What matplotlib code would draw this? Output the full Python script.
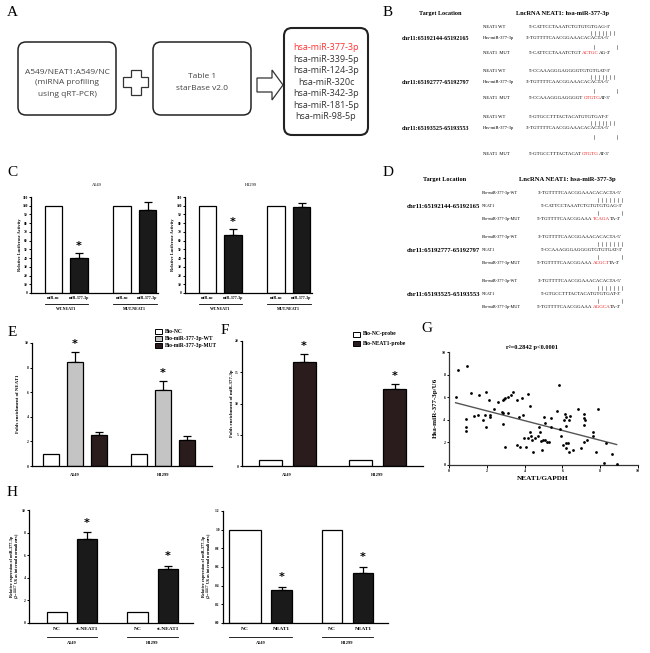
import matplotlib
matplotlib.use("Agg")
import matplotlib.pyplot as plt
from matplotlib.patches import FancyBboxPatch, Polygon, Rectangle
import numpy as np

# ── data ──────────────────────────────────────────────────
A_MIRNAS = ["hsa-miR-377-3p", "hsa-miR-339-5p", "hsa-miR-124-3p", "hsa-miR-320c",
            "hsa-miR-342-3p", "hsa-miR-181-5p", "hsa-miR-98-5p"]

CHR_SITES = ["chr11:65192144-65192165", "chr11:65192777-65192797", "chr11:65193525-65193553"]
B_WT = ["5'-CATTCCTAAATCTGTGTGTGAG-3'", "5'-CCAAAGGGAGGGGTGTGTGAT-3'", "5'-GTGCCTTTACTACATGTGTGAT-3'"]
MIR_SEQ = "3'-TGTTTTCAACGGAAACACACTA-5'"
B_MUT = [("5'-CATTCCTAAATCTGT", "ACTGC", "AG-3'"),
         ("5'-CCAAAGGGAGGGGT", "GTGTG", "AT-3'"),
         ("5'-GTGCCTTTACTACAT", "GTGTG", "AT-3'")]
D_MUT = [("5'-TGTTTTCAACGGAAA", "TCAGA", "TA-3'"),
         ("5'-TGTTTTCAACGGAAA", "ACGCT", "TA-3'"),
         ("5'-TGTTTTCAACGGAAA", "AGGCA", "TA-3'")]

C_TREAT = ["miR-nc", "miR-377-3p", "miR-nc", "miR-377-3p"]
C_GROUPS = ["WT-NEAT1", "MUT-NEAT1"]
C_A549 = [100, 40.5, 100, 95]
C_A549_ERR = [0, 5, 0, 9.5]
C_H1299 = [100, 66.5, 100, 98]
C_H1299_ERR = [0, 7, 0, 5.5]
C_SIG = [0, 1, 0, 0]

E_LEGEND = ["Bio-NC", "Bio-miR-377-3p-WT", "Bio-miR-377-3p-MUT"]
E_VALS = [1, 8.45, 2.5, 1, 6.2, 2.15]
E_ERR = [0, 0.85, 0.27, 0, 0.72, 0.3]
E_SIG = [0, 1, 0, 0, 1, 0]

F_LEGEND = ["Bio-NC-probe", "Bio-NEAT1-probe"]
F_VALS = [1, 16.6, 1, 12.3]
F_ERR = [0, 1.3, 0, 0.8]
F_SIG = [0, 1, 0, 1]

CELLS = ["A549", "H1299"]

G_X = [0.35, 0.5, 0.94, 1.15, 0.92, 0.92, 0.92, 1.34, 1.52, 1.61, 1.78, 1.96, 1.91, 1.94,
       2.13, 2.15, 2.15, 2.4, 2.57, 2.79, 2.85, 2.87, 2.93, 2.96, 2.87, 2.96, 3.14, 3.14,
       3.26, 3.4, 3.58, 3.58, 3.72, 3.76, 3.84, 3.93, 3.99, 4.07, 4.16, 4.2, 4.29, 4.29,
       4.34, 4.41, 4.46, 4.55, 4.69, 4.78, 4.8, 4.85, 4.9, 4.96, 5.04, 5.07, 5.07, 5.2,
       5.3, 5.4, 5.4, 5.7, 5.84, 5.87, 5.93, 6.05, 6.1, 6.14, 6.18, 6.2, 6.2, 6.3, 6.34,
       6.4, 6.2, 6.34, 6.58, 6.84, 6.98, 7.16, 7.16, 7.18, 7.16, 7.16, 7.3, 7.6, 7.6, 7.9,
       7.76, 8.29, 8.6, 8.2, 8.87]
G_Y = [6.05, 8.4, 8.76, 6.4, 4.04, 3.4, 3.0, 4.34, 4.4, 6.2, 3.98, 6.5, 4.45, 3.34,
       5.75, 4.45, 4.24, 5.0, 5.6, 4.7, 4.6, 5.75, 5.86, 5.95, 3.63, 1.62, 4.6, 6.05,
       6.2, 6.5, 1.77, 5.75, 4.22, 1.62, 5.9, 4.45, 2.36, 1.62, 2.36, 6.25, 5.22, 2.95,
       2.56, 2.2, 1.18, 2.36, 2.56, 3.39, 2.95, 2.15, 1.33, 2.2, 4.22, 2.2, 3.75, 2.06,
       2.06, 3.33, 4.13, 4.8, 7.08, 3.15, 2.56, 1.77, 3.98, 4.51, 3.45, 1.92, 4.22, 1.92, 3.98,
       4.34, 1.47, 1.18, 1.33, 4.93, 1.47, 4.51, 4.13, 3.98, 3.5, 2.06, 2.2, 2.95, 2.56, 4.93,
       1.18, 1.92, 0.94, 0.2, 0.09]
G_SLOPE, G_INTERCEPT = -0.434, 5.66
G_TITLE = "r²=0.2842 p<0.0001"

H_KD_LABELS = ["NC", "si-NEAT1"]
H_KD_VALS = [1, 7.4, 1, 4.82]
H_KD_ERR = [0, 0.62, 0, 0.24]
H_OE_LABELS = ["NC", "NEAT1"]
H_OE_VALS = [1.0, 0.355, 1.0, 0.54]
H_OE_ERR = [0, 0.032, 0, 0.06]
H_SIG = [0, 1, 0, 1]

# ── figure set-up (everything placed in pixels) ───────────
W, H = 650, 653
SERIF = "Liberation Serif"
SANS = "Open Sans"
BLACK = "#1a1a1a"
BROWN = "#2a1c1c"
GREY = "#c4c4c4"

fig = plt.figure(figsize=(6.5, 6.53), dpi=100)
ov = fig.add_axes([0, 0, 1, 1], zorder=5)
ov.set_xlim(0, W)
ov.set_ylim(H, 0)
ov.axis("off")
renderer = fig.canvas.get_renderer()


def px_axes(left, top, right, bottom):
    return fig.add_axes([left / W, 1 - bottom / H, (right - left) / W, (bottom - top) / H])


def txt(x, y, s, size=3.2, bold=False, ha="center", color="black", family=SERIF, rot=0):
    return ov.text(x, y, s, fontsize=size, fontweight="bold" if bold else "normal",
                   ha=ha, va="center", color=color, family=family, rotation=rot)


def seq(x, y, parts, size=3.6):
    # draw text pieces one after another, so some can be red
    for s, c in parts:
        t = ov.text(x, y, s, fontsize=size, family=SERIF, ha="left", va="center", color=c)
        bb = t.get_window_extent(renderer)
        x = ov.transData.inverted().transform((bb.x1, bb.y0))[0]


def pipes(x0, x1, y, n):
    # base-pairing ticks between two sequences
    for x in np.linspace(x0, x1, n):
        ov.plot([x, x], [y - 2, y + 2], color="#444444", lw=0.4)


def panel_letter(x, y, s):
    txt(x, y, s, size=11, family=SERIF)


def bar_axes(left, top, right, bottom, ymax, yticks, fmt):
    ax = px_axes(left, top, right, bottom)
    ax.set_xlim(0, right - left)
    ax.set_ylim(0, ymax)
    for s in ["top", "right"]:
        ax.spines[s].set_visible(False)
    for s in ["left", "bottom"]:
        ax.spines[s].set_linewidth(0.9)
    ax.set_xticks([])
    ax.set_yticks(yticks)
    ax.set_yticklabels([fmt.format(v) for v in yticks], fontsize=2.6,
                       family=SERIF, fontweight="bold")
    ax.tick_params(axis="y", length=1.8, width=0.7, pad=0.6)
    ax.patch.set_alpha(0)
    return ax


def draw_bars(ax, xs, widths, vals, errs, colors, sig, star_off=3):
    ax.bar(xs, vals, width=widths, color=colors, edgecolor="black", linewidth=0.9, zorder=2)
    for x, v, e, s in zip(xs, vals, errs, sig):
        if e > 0:
            ax.errorbar([x], [v], yerr=[[0], [e]], fmt="none", ecolor="black",
                        elinewidth=0.9, capsize=2.6, capthick=0.9, zorder=1)
        if s:
            ax.annotate("*", (x, v + e), xytext=(0, star_off), textcoords="offset points",
                        ha="center", va="bottom", fontsize=8, fontweight="bold",
                        family="DejaVu Sans")


# ── A: workflow diagram ───────────────────────────────────
panel_letter(12, 13, "A")
for (x0, y0, x1, y1, lw) in [(18, 42, 116, 115, 1.1), (153, 42, 251, 115, 1.1),
                             (284, 28, 368, 135, 1.5)]:
    ov.add_patch(FancyBboxPatch((x0 + 8, y0 + 8), x1 - x0 - 16, y1 - y0 - 16,
                                boxstyle="round,pad=8", fc="white", ec="#222222", lw=lw))
for i, line in enumerate(["A549/NEAT1:A549/NC", "(miRNA profiling", "using qRT-PCR)"]):
    txt(67, 72 + 11 * i, line, size=6.0, family=SANS, color="#444444")
for i, line in enumerate(["Table 1", "starBase v2.0"]):
    txt(202, 76 + 13 * i, line, size=6.0, family=SANS, color="#444444")
for i, m in enumerate(A_MIRNAS):
    txt(326, 48 + 11.4 * i, m, size=6.5, family=SANS,
        color="#ff3333" if i == 0 else "#333333")
# plus sign
cx, cy, a, b = 135.5, 82, 12.5, 5
ov.add_patch(Polygon([(cx - b, cy - a), (cx + b, cy - a), (cx + b, cy - b), (cx + a, cy - b),
                      (cx + a, cy + b), (cx + b, cy + b), (cx + b, cy + a), (cx - b, cy + a),
                      (cx - b, cy + b), (cx - a, cy + b), (cx - a, cy - b), (cx - b, cy - b)],
                     closed=True, fc="white", ec="#333333", lw=0.9))
# block arrow
ov.add_patch(Polygon([(257, 78), (272, 78), (272, 70), (283, 85), (272, 100), (272, 92),
                      (257, 92)], closed=True, fc="white", ec="#333333", lw=0.9))

# ── B: target sequences ───────────────────────────────────
panel_letter(388, 13, "B")
txt(440, 14, "Target Location", size=4.4, bold=True)
txt(563, 14, "LncRNA NEAT1: hsa-miR-377-3p", size=4.6, bold=True)
b_top = [27, 71, 117]       # row of the NEAT1 WT line in each block
b_mut_gap = [26, 27, 37]    # distance to the MUT line
for g in range(3):
    y0 = b_top[g]
    ym = y0 + b_mut_gap[g]
    txt(402, y0 + 11, CHR_SITES[g], size=4.4, bold=True, ha="left")
    txt(483, y0, "NEAT1 WT", size=3.3, ha="left")
    txt(483, y0 + 11, "Has-miR-377-3p", size=3.3, ha="left")
    txt(483, ym, "NEAT1  MUT", size=3.3, ha="left")
    seq(529, y0, [(B_WT[g], "black")])
    pipes(591, 614, y0 + 5.5, 7)
    seq(526, y0 + 11, [(MIR_SEQ, "black")])
    pipes(594, 617, y0 + 20, 2)
    pre, mut, post = B_MUT[g]
    seq(529, ym, [(pre, "black"), (mut, "#ee1111"), (post, "black")])

# ── D: biotin probe sequences ─────────────────────────────
panel_letter(388, 173, "D")
txt(445, 179, "Target Location", size=4.6, bold=True)
txt(567, 179, "LncRNA NEAT1: hsa-miR-377-3p", size=4.8, bold=True)
for g in range(3):
    y0 = 193 + 44 * g
    txt(407, y0 + 13, CHR_SITES[g], size=4.8, bold=True, ha="left")
    txt(482, y0, "Bio-miR-377-3p-WT", size=3.1, ha="left")
    txt(482, y0 + 13, "NEAT1", size=3.1, ha="left")
    txt(482, y0 + 26, "Bio-miR-377-3p-MUT", size=3.1, ha="left")
    seq(538, y0, [(MIR_SEQ, "black")])
    pipes(598, 622, y0 + 7, 7)
    seq(541, y0 + 13, [(B_WT[g], "black")])
    pipes(598, 622, y0 + 20, 2)
    pre, mut, post = D_MUT[g]
    seq(537, y0 + 26, [(pre, "black"), (mut, "#ee1111"), (post, "black")])

# ── C: luciferase reporter ────────────────────────────────
panel_letter(12, 173, "C")
c_x = [22.5, 48, 91, 116.5]
c_cols = ["white", BLACK, "white", BLACK]
for left, cell, vals, errs, ylx in [(31, CELLS[0], C_A549, C_A549_ERR, 20),
                                     (185, CELLS[1], C_H1299, C_H1299_ERR, 173)]:
    ax = bar_axes(left, 197, left + 127, 293, 110, list(range(0, 111, 10)), "{:d}")
    draw_bars(ax, c_x, 17.5, vals, errs, c_cols, C_SIG, star_off=1.5)
    txt(left + 66, 185, cell, size=3.2)
    txt(ylx, 245, "Relative Luciferase Activity", size=3.2, bold=True, rot=90)
    for i, x in enumerate(c_x):
        txt(left + x, 298, C_TREAT[i], size=2.9, bold=True)
    for k in range(2):
        x0, x1 = left + c_x[2 * k] - 9, left + c_x[2 * k + 1] + 9
        ov.plot([x0, x1], [303.5, 303.5], color="black", lw=0.6)
        txt((x0 + x1) / 2, 308.5, C_GROUPS[k], size=2.9, bold=True)

# ── E: RNA pull-down with biotin miRNA ────────────────────
panel_letter(12, 332, "E")
e_x = [19, 43, 67, 107, 131, 155]
e_cols = ["white", GREY, BROWN] * 2
ax = bar_axes(32, 343, 212, 466, 10, [0, 2, 4, 6, 8, 10], "{:d}")
draw_bars(ax, e_x, 16, E_VALS, E_ERR, e_cols, E_SIG, star_off=2.2)
txt(18, 404, "Folds enrichment of NEAT1", size=3.5, bold=True, rot=90)
for k, cell in enumerate(CELLS):
    txt(32 + e_x[3 * k + 1], 475, cell, size=3.2, bold=True)
for i, lab in enumerate(E_LEGEND):
    ov.add_patch(Rectangle((155, 329 + 6.8 * i), 7, 5, fc=e_cols[i], ec="black", lw=0.7))
    txt(165, 331.5 + 6.8 * i, lab, size=4, bold=True, ha="left")

# ── F: RNA pull-down with biotin NEAT1 probe ──────────────
panel_letter(225, 331, "F")
f_x = [28, 62, 118, 152.5]
f_cols = ["white", BROWN] * 2
ax = bar_axes(242, 341, 423, 466, 20, [0, 5, 10, 15, 20], "{:d}")
draw_bars(ax, f_x, 23, F_VALS, F_ERR, f_cols, F_SIG, star_off=2.2)
txt(232, 403, "Folds enrichment of miR-377-3p", size=3.5, bold=True, rot=90)
for k, cell in enumerate(CELLS):
    txt(242 + (f_x[2 * k] + f_x[2 * k + 1]) / 2, 475, cell, size=3.2, bold=True)
for i, lab in enumerate(F_LEGEND):
    ov.add_patch(Rectangle((353, 331.5 + 9 * i), 7, 5, fc=f_cols[i], ec="black", lw=0.7))
    txt(363, 334 + 9 * i, lab, size=4, bold=True, ha="left")

# ── G: correlation in tissues ─────────────────────────────
panel_letter(427, 329, "G")
ax = px_axes(449, 352, 638, 465)
ax.scatter(G_X, G_Y, s=4, color="black", zorder=3, linewidths=0)
gx = np.array([min(G_X), max(G_X)])
ax.plot(gx, G_SLOPE * gx + G_INTERCEPT, color="#555555", lw=1.0)
ax.set_xlim(0, 10)
ax.set_ylim(0, 10)
for s in ["top", "right"]:
    ax.spines[s].set_visible(False)
for s in ["left", "bottom"]:
    ax.spines[s].set_linewidth(0.9)
    ax.spines[s].set_color("#333333")
ax.set_xticks(range(0, 11, 2))
ax.set_yticks(range(0, 11, 2))
ax.tick_params(length=1.8, width=0.7, pad=0.8, labelsize=2.8)
for lab in ax.get_xticklabels() + ax.get_yticklabels():
    lab.set_family(SERIF)
    lab.set_fontweight("bold")
ax.patch.set_alpha(0)
txt(532, 347, G_TITLE, size=4.6, bold=True)
txt(543, 478, "NEAT1/GAPDH", size=5.2, bold=True)
txt(435, 408, "Hsa-miR-377-3p/U6", size=5, bold=True, rot=90)

# ── H: qRT-PCR after knock-down / over-expression ─────────
panel_letter(12, 493, "H")
ylab = "Relative expression of miR-377-3p"
ylab2 = "(2$^{-ΔΔCT}$ U6 as internal normalizers)"
h_specs = [
    (29, 510, 193, 10, [0, 2, 4, 6, 8, 10], "{:d}", [28, 58, 108.5, 139], [20, 20, 21, 20],
     H_KD_VALS, H_KD_ERR, H_KD_LABELS, 12),
    (223, 511, 388, 1.2, [0, 0.2, 0.4, 0.6, 0.8, 1.0, 1.2], "{:.1f}", [22, 58.5, 109, 140],
     [32, 21, 20, 20], H_OE_VALS, H_OE_ERR, H_OE_LABELS, 204),
]
for left, top, right, ymax, ticks, fmt, hx, hw, vals, errs, labs, ylx in h_specs:
    ax = bar_axes(left, top, right, 623, ymax, ticks, fmt)
    draw_bars(ax, hx, hw, vals, errs, ["white", BLACK] * 2, H_SIG, star_off=3.5)
    txt(ylx, 566, ylab, size=3.1, bold=True, rot=90)
    txt(ylx + 6, 566, ylab2, size=3.1, bold=True, rot=90)
    for i, x in enumerate(hx):
        txt(left + x, 628.5, labs[i % 2], size=3.9, bold=True)
    for k, cell in enumerate(CELLS):
        x0 = left + hx[2 * k] - hw[2 * k] / 2
        x1 = left + hx[2 * k + 1] + hw[2 * k + 1] / 2
        ov.plot([x0, x1], [637, 637], color="black", lw=0.6)
        txt((x0 + x1) / 2, 643, cell, size=3.2, bold=True)

fig.savefig("out.png", dpi=100)
